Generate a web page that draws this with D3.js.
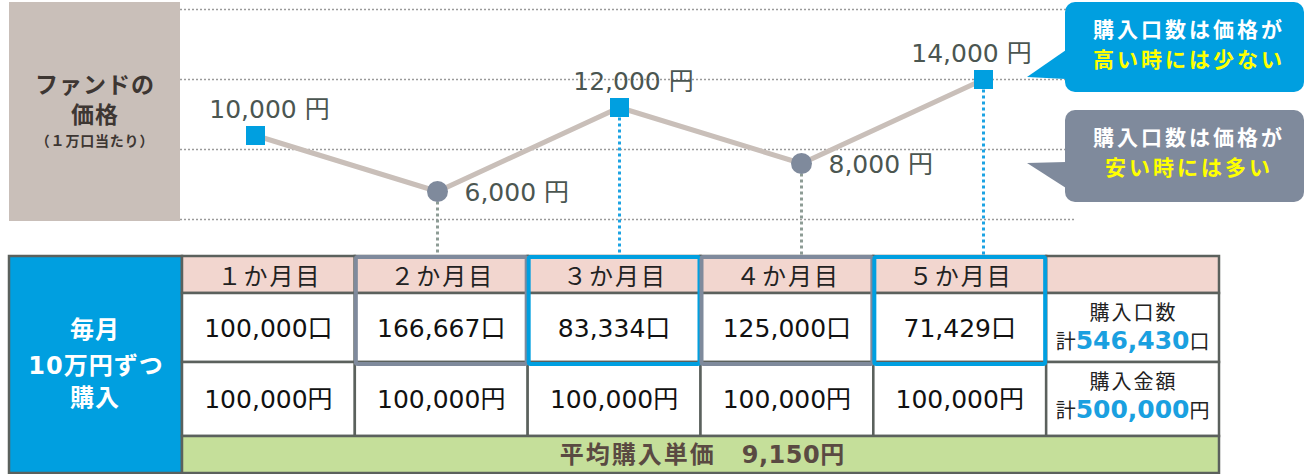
<!DOCTYPE html>
<html><head><meta charset="utf-8">
<script src="https://cdn.jsdelivr.net/npm/d3@7"></script>
<style>
body{margin:0;background:#fff}
svg{display:block;font-family:"DejaVu Sans","Noto Sans CJK JP",sans-serif}
</style></head><body><div id="chart"></div>
<script>
// data
const months = ["１か月目", "２か月目", "３か月目", "４か月目", "５か月目"];
const prices = [10000, 6000, 12000, 8000, 14000];
const units = [100000, 166667, 83334, 125000, 71429];
const spend = [100000, 100000, 100000, 100000, 100000];
const kind = ["base", "low", "high", "low", "high"];
const gridPrices = [4000, 9000, 14000, 19000];
const totalUnits = 546430, totalSpend = 500000, avgPrice = 9150;

const W = 1304, H = 474;
const blue = "#009fe0", grey = "#7f8a9c", beige = "#c9bfb9", lineCol = "#5b615d";
const fmt = d3.format(",");

const svg = d3.select("#chart").append("svg").attr("width", W).attr("height", H);

// scales
const x = d3.scalePoint().domain(months).range([255.5, 983.5]);
const y = d3.scaleLinear().domain([4000, 19000]).range([219.5, 9.5]);
const col = d3.scaleBand().domain(months.concat(["total"])).range([182, 1219]);
const tTop = 256, r1 = 293, r2 = 362, r3 = 436, tBot = 473;

//left label box
svg.append("rect").attr("x", 9).attr("y", 2).attr("width", 171).attr("height", 219).attr("fill", beige);
const lab = svg.append("text").attr("fill", "#3d3632").attr("font-weight", "bold").attr("text-anchor", "middle");
lab.append("tspan").attr("x", 95).attr("y", 93).attr("font-size", 23).attr("letter-spacing", 1).text("ファンドの");
lab.append("tspan").attr("x", 95).attr("y", 123).attr("font-size", 23).attr("letter-spacing", 1).text("価格");
lab.append("tspan").attr("x", 95).attr("y", 146).attr("font-size", 14).attr("letter-spacing", 0.8).text("（１万口当たり）");

//gridlines
svg.append("g").selectAll("line").data(gridPrices).join("line")
  .attr("x1", 180).attr("x2", 1075)
  .attr("y1", d => y(d)).attr("y2", d => y(d))
  .attr("stroke", "#9a9a9a").attr("stroke-width", 1.5).attr("stroke-dasharray", "2,2");

//drop lines to the table
const pts = months.map((m, i) => ({m, p: prices[i], k: kind[i]}));
svg.append("g").selectAll("line").data(pts.filter(d => d.k != "base")).join("line")
  .attr("x1", d => x(d.m)).attr("x2", d => x(d.m))
  .attr("y1", d => y(d.p) + 10).attr("y2", tTop)
  .attr("stroke", d => d.k == "high" ? "#1ca3e3" : "#8d9c95")
  .attr("stroke-width", 3).attr("stroke-dasharray", "3,3");

//price line
svg.append("path").datum(pts)
  .attr("fill", "none").attr("stroke", beige).attr("stroke-width", 5)
  .attr("d", d3.line().x(d => x(d.m)).y(d => y(d.p)));

// markers
svg.append("g").selectAll("circle").data(pts.filter(d => d.k == "low")).join("circle")
  .attr("cx", d => x(d.m)).attr("cy", d => y(d.p)).attr("r", 10.5).attr("fill", grey);
svg.append("g").selectAll("rect").data(pts.filter(d => d.k != "low")).join("rect")
  .attr("x", d => x(d.m) - 9.5).attr("y", d => y(d.p) - 9.5)
  .attr("width", 19).attr("height", 19).attr("fill", blue);

// price labels
svg.append("g").selectAll("text").data(pts).join("text")
  .attr("font-size", 25).attr("fill", "#4b5651")
  .attr("text-anchor", d => d.k == "low" ? "start" : "middle")
  .attr("x", (d, i) => d.k == "low" ? x(d.m) + 27 : x(d.m) + (i == 4 ? -12 : 14))
  .attr("y", d => d.k == "low" ? y(d.p) + 9 : y(d.p) - 18)
  .text(d => fmt(d.p) + " 円");

// callouts
function callout(yTop, h, tri, fill, l1, l2) {
  const g = svg.append("g");
  g.append("path").attr("d", d3.line()(tri)).attr("fill", fill);
  g.append("rect").attr("x", 1065).attr("y", yTop).attr("width", 239).attr("height", h).attr("rx", 10).attr("fill", fill);
  const t = g.append("text").attr("text-anchor", "middle").attr("font-weight", "bold").attr("font-size", 21).attr("letter-spacing", 3);
  t.append("tspan").attr("x", 1189).attr("y", yTop + 35).attr("fill", "#fff").text(l1);
  t.append("tspan").attr("x", 1189).attr("y", yTop + 65).attr("fill", "#ffff00").text(l2);
}
callout(2, 90, [[1066, 50], [1027, 77], [1066, 79]], blue, "購入口数は価格が", "高い時には少ない");
callout(110, 92, [[1066, 162], [1027, 163], [1066, 188]], grey, "購入口数は価格が", "安い時には多い");

// table
const tbl = svg.append("g");
tbl.append("rect").attr("x", 9).attr("y", tTop).attr("width", 173).attr("height", tBot - tTop)
  .attr("fill", blue).attr("stroke", lineCol).attr("stroke-width", 2.5);
const lt = tbl.append("text").attr("text-anchor", "middle").attr("font-weight", "bold").attr("font-size", 24).attr("fill", "#fff").attr("letter-spacing", 1);
lt.append("tspan").attr("x", 95).attr("y", 338).text("毎月");
lt.append("tspan").attr("x", 96).attr("y", 374).text("10万円ずつ");
lt.append("tspan").attr("x", 95).attr("y", 406).text("購入");

const cells = tbl.append("g");
cells.selectAll(".hd").data(col.domain()).join("rect")
  .attr("x", d => col(d)).attr("y", tTop).attr("width", col.bandwidth()).attr("height", r1 - tTop)
  .attr("fill", "#f2d6cf").attr("stroke", lineCol).attr("stroke-width", 2.5);
cells.selectAll(".r1").data(col.domain()).join("rect").attr("class", "r1")
  .attr("x", d => col(d)).attr("y", r1).attr("width", col.bandwidth()).attr("height", r2 - r1)
  .attr("fill", "#fff").attr("stroke", lineCol).attr("stroke-width", 2.5);
cells.selectAll(".r2").data(col.domain()).join("rect").attr("class", "r2")
  .attr("x", d => col(d)).attr("y", r2).attr("width", col.bandwidth()).attr("height", r3 - r2)
  .attr("fill", "#fff").attr("stroke", lineCol).attr("stroke-width", 2.5);
tbl.append("rect").attr("x", 182).attr("y", r3).attr("width", 1037).attr("height", tBot - r3)
  .attr("fill", "#c5df9a").attr("stroke", lineCol).attr("stroke-width", 2.5);

const cx = d => col(d) + col.bandwidth() / 2;
tbl.append("g").selectAll("text").data(months).join("text")
  .attr("x", d => cx(d) + 1).attr("y", 285).attr("text-anchor", "middle").attr("font-size", 24).attr("letter-spacing", 2).attr("fill", "#222")
  .text(d => d);
tbl.append("g").selectAll("text").data(months).join("text")
  .attr("x", cx).attr("y", 337).attr("text-anchor", "middle").attr("font-size", 25).attr("fill", "#111")
  .text((d, i) => fmt(units[i]) + "口");
tbl.append("g").selectAll("text").data(months).join("text")
  .attr("x", cx).attr("y", 408).attr("text-anchor", "middle").attr("font-size", 25).attr("fill", "#111")
  .text((d, i) => fmt(spend[i]) + "円");

// totals column
const tx = cx("total");
function total(y1, head, val, unit) {
  tbl.append("text").attr("x", tx + 1).attr("y", y1).attr("text-anchor", "middle").attr("font-size", 20).attr("letter-spacing", 2).attr("fill", "#222").text(head);
  const t = tbl.append("text").attr("x", tx).attr("y", y1 + 29).attr("text-anchor", "middle").attr("fill", "#222");
  t.append("tspan").attr("font-size", 20).text("計");
  t.append("tspan").attr("font-size", 25).attr("font-weight", "bold").attr("fill", "#1aa0e0").text(fmt(val));
  t.append("tspan").attr("font-size", 20).text(unit);
}
total(320, "購入口数", totalUnits, "口");
total(389, "購入金額", totalSpend, "円");

const avg = tbl.append("text").attr("x", 702).attr("y", 463).attr("text-anchor", "middle")
  .attr("font-size", 24).attr("font-weight", "bold").attr("fill", "#5a4a42");
avg.append("tspan").attr("letter-spacing", 2).text("平均購入単価　");
avg.append("tspan").attr("letter-spacing", 0.5).text(fmt(avgPrice));
avg.append("tspan").text("円");

// highlight boxes for cheap / expensive months
tbl.append("g").selectAll("rect").data(pts.filter(d => d.k != "base")).join("rect")
  .attr("x", d => col(d.m) + 1).attr("y", tTop + 1)
  .attr("width", col.bandwidth() - 2).attr("height", r2 + 1 - tTop)
  .attr("rx", 2).attr("fill", "none").attr("stroke-width", 4)
  .attr("stroke", d => d.k == "high" ? blue : grey);
</script></body></html>
